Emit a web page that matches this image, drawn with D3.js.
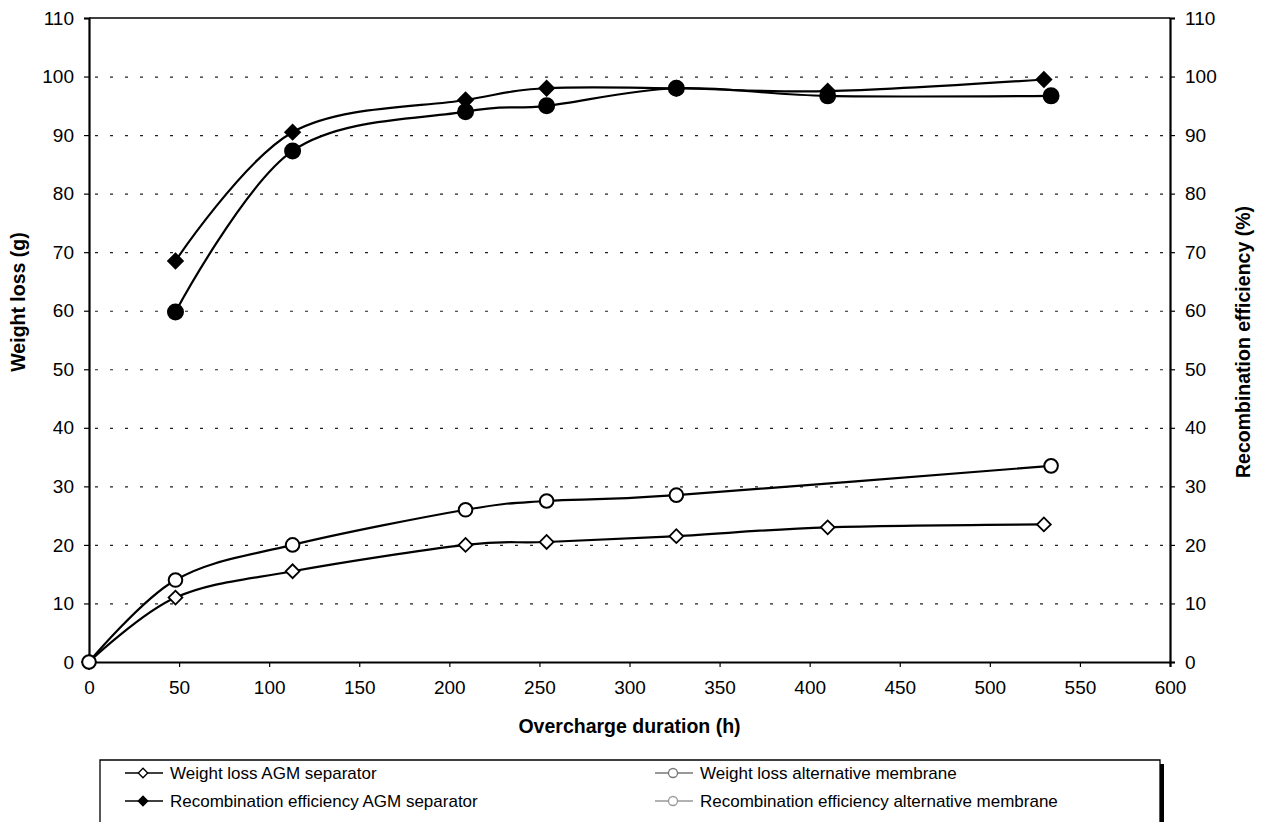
<!DOCTYPE html>
<html>
<head>
<meta charset="utf-8">
<script src="https://cdn.jsdelivr.net/npm/d3@7"></script>
<style>
  body { margin: 0; background: #fff; }
  text { font-family: "Liberation Sans", Arial, sans-serif; fill: #000; }
</style>
</head>
<body>
<div id="chart"></div>
<script>
// data
var wlAgmHours = [0, 48, 113, 209, 254, 326, 410, 530];
var wlAgmValues = [0, 11, 15.5, 20, 20.5, 21.5, 23, 23.5];
var wlAltHours = [0, 48, 113, 209, 254, 326, 534];
var wlAltValues = [0, 14, 20, 26, 27.5, 28.5, 33.5];
var reAgmHours = [48, 113, 209, 254, 326, 410, 530];
var reAgmValues = [68.5, 90.5, 96, 98, 98, 97.5, 99.5];
var reAltHours = [48, 113, 209, 254, 326, 410, 534];
var reAltValues = [59.8, 87.3, 94, 95, 98, 96.7, 96.7];
var xTicks = d3.range(0, 601, 50);
var yTicks = d3.range(0, 111, 10);
var legendLabels = ["Weight loss AGM separator", "Weight loss alternative membrane",
                    "Recombination efficiency AGM separator", "Recombination efficiency alternative membrane"];

var chartWidth = 1261, chartHeight = 822;
var plotLeft = 89, plotRight = 1170, plotTop = 18, plotBottom = 662;

var svg = d3.select("#chart").append("svg")
    .attr("width", chartWidth)
    .attr("height", chartHeight);

var x = d3.scaleLinear().domain([0, 600]).range([plotLeft, plotRight]);
var yL = d3.scaleLinear().domain([0, 110]).range([plotBottom, plotTop]);
var yR = d3.scaleLinear().domain([0, 110]).range([plotBottom, plotTop]);

// dotted gridlines
svg.append("g").selectAll("line")
    .data(yTicks.filter(function(d) { return d > 0 && d < 110; }))
    .enter().append("line")
    .attr("x1", plotLeft + 6).attr("x2", plotRight)
    .attr("y1", function(d) { return yL(d) + 0.5; })
    .attr("y2", function(d) { return yL(d) + 0.5; })
    .attr("stroke", "#222")
    .attr("stroke-width", 1.2)
    .attr("stroke-dasharray", "3,12");

// top of the frame
svg.append("line").attr("x1", plotLeft).attr("x2", plotRight).attr("y1", plotTop).attr("y2", plotTop)
    .attr("stroke", "#000").attr("stroke-width", 1.5);

var xAxis = svg.append("g")
    .attr("transform", "translate(0," + plotBottom + ")")
    .call(d3.axisBottom(x).tickValues(xTicks).tickSize(5).tickPadding(14));
var yAxisL = svg.append("g")
    .attr("transform", "translate(" + plotLeft + ",0)")
    .call(d3.axisLeft(yL).tickValues(yTicks).tickSize(5).tickPadding(10));
var yAxisR = svg.append("g")
    .attr("transform", "translate(" + plotRight + ",0)")
    .call(d3.axisRight(yR).tickValues(yTicks).tickSize(5).tickPadding(10));

[xAxis, yAxisL, yAxisR].forEach(function(a) {
    a.select(".domain").attr("stroke", "#000").attr("stroke-width", 2.2);
    a.selectAll(".tick line").attr("stroke", "#000").attr("stroke-width", 1.2);
    a.selectAll("text").style("font-size", "19px").style("font-family", "'Liberation Sans', Arial, sans-serif");
});

// axis titles
svg.append("text")
    .attr("x", (plotLeft + plotRight) / 2).attr("y", 733)
    .attr("text-anchor", "middle")
    .style("font-size", "19.5px").style("font-weight", "bold")
    .text("Overcharge duration (h)");
svg.append("text")
    .attr("transform", "translate(25,302) rotate(-90)")
    .attr("text-anchor", "middle")
    .style("font-size", "19.5px").style("font-weight", "bold")
    .text("Weight loss (g)");
svg.append("text")
    .attr("transform", "translate(1250," + ((plotTop + plotBottom) / 2 + 2) + ") rotate(-90)")
    .attr("text-anchor", "middle")
    .style("font-size", "19.5px").style("font-weight", "bold")
    .text("Recombination efficiency (%)");

function zip(xs, ys) {
    return xs.map(function(h, i) { return {h: h, v: ys[i]}; });
}

var series = [
    {pts: zip(wlAgmHours, wlAgmValues), y: yL, shape: "diamond", fill: "#fff"},
    {pts: zip(wlAltHours, wlAltValues), y: yL, shape: "circle", fill: "#fff"},
    {pts: zip(reAgmHours, reAgmValues), y: yR, shape: "diamond", fill: "#000"},
    {pts: zip(reAltHours, reAltValues), y: yR, shape: "circle", fill: "#000"}
];

// a square turned 45 degrees, like the spreadsheet diamond marker
var openDiamond = d3.symbol().type(d3.symbolSquare).size(95);
var solidDiamond = d3.symbol().type(d3.symbolSquare).size(110);

series.forEach(function(s) {
    var line = d3.line()
        .curve(d3.curveCardinal.tension(0))
        .x(function(d) { return x(d.h); })
        .y(function(d) { return s.y(d.v); });
    svg.append("path")
        .datum(s.pts)
        .attr("d", line)
        .attr("fill", "none")
        .attr("stroke", "#000")
        .attr("stroke-width", 2.2);
});

series.forEach(function(s) {
    var m = svg.append("g").selectAll(".m").data(s.pts).enter();
    if (s.shape === "circle") {
        m.append("circle")
            .attr("cx", function(d) { return x(d.h); })
            .attr("cy", function(d) { return s.y(d.v); })
            .attr("r", s.fill === "#000" ? 7.5 : 6.8)
            .attr("fill", s.fill)
            .attr("stroke", "#000")
            .attr("stroke-width", 2);
    } else {
        m.append("path")
            .attr("d", s.fill === "#000" ? solidDiamond : openDiamond)
            .attr("transform", function(d) { return "translate(" + x(d.h) + "," + s.y(d.v) + ") rotate(45)"; })
            .attr("fill", s.fill)
            .attr("stroke", "#000")
            .attr("stroke-width", 1.8);
    }
});

// legend
var lgTop = 760, lgLeft = 100, lgRight = 1160;
svg.append("rect")
    .attr("x", lgRight).attr("y", lgTop + 4)
    .attr("width", 4).attr("height", chartHeight - lgTop)
    .attr("fill", "#000");
svg.append("path")
    .attr("d", "M" + lgLeft + "," + (chartHeight + 2) + "V" + lgTop + "H" + lgRight + "V" + (chartHeight + 2))
    .attr("fill", "#fff").attr("stroke", "#000").attr("stroke-width", 1.3);

var lgItems = [
    {col: 0, row: 0, shape: "diamond", fill: "#fff", color: "#000"},
    {col: 1, row: 0, shape: "circle", fill: "#fff", color: "#777"},
    {col: 0, row: 1, shape: "diamond", fill: "#000", color: "#000"},
    {col: 1, row: 1, shape: "circle", fill: "#fff", color: "#999"}
];
var colX = [125, 655], rowY = [773, 801];
var lgDiamond = d3.symbol().type(d3.symbolSquare).size(45);
lgItems.forEach(function(it, i) {
    var lx = colX[it.col], ly = rowY[it.row];
    svg.append("line")
        .attr("x1", lx).attr("x2", lx + 38)
        .attr("y1", ly).attr("y2", ly)
        .attr("stroke", it.color).attr("stroke-width", 1.5);
    if (it.shape === "circle") {
        svg.append("circle")
            .attr("cx", lx + 18).attr("cy", ly).attr("r", 4.5)
            .attr("fill", "#fff").attr("stroke", it.color).attr("stroke-width", 1.3);
    } else {
        svg.append("path")
            .attr("d", lgDiamond)
            .attr("transform", "translate(" + (lx + 18) + "," + ly + ") rotate(45)")
            .attr("fill", it.fill).attr("stroke", "#000").attr("stroke-width", 1.3);
    }
    svg.append("text")
        .attr("x", lx + 45).attr("y", ly + 6)
        .style("font-size", "17px")
        .text(legendLabels[i]);
});
</script>
</body>
</html>
